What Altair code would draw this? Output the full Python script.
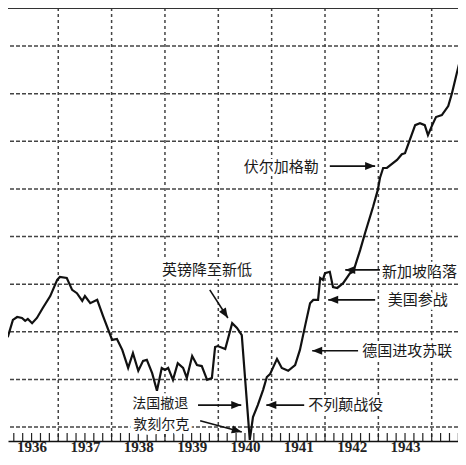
import altair as alt
import pandas as pd

# ---- main index line (decimal year, index level) ----
years = [1935.91, 1936.00, 1936.06, 1936.15, 1936.23, 1936.32, 1936.38, 1936.43, 1936.51, 1936.60,
         1936.71, 1936.85, 1936.98, 1937.03, 1937.16, 1937.26, 1937.35, 1937.45, 1937.50, 1937.60,
         1937.73, 1937.84, 1938.01, 1938.10, 1938.20, 1938.31, 1938.40, 1938.50, 1938.59, 1938.66,
         1938.76, 1938.85, 1938.94, 1939.00, 1939.06, 1939.15, 1939.24, 1939.34, 1939.41, 1939.51,
         1939.60, 1939.69, 1939.79, 1939.88, 1939.94, 1939.99, 1940.13, 1940.26, 1940.35, 1940.44,
         1940.59, 1940.65, 1940.74, 1940.84, 1940.91, 1940.97, 1941.10, 1941.19, 1941.31, 1941.44,
         1941.53, 1941.63, 1941.72, 1941.78, 1941.87, 1941.91, 1941.96, 1942.00, 1942.09, 1942.15,
         1942.23, 1942.34, 1942.47, 1942.53, 1942.60, 1942.66, 1942.75, 1942.90, 1942.99, 1943.03,
         1943.09, 1943.16, 1943.35, 1943.44, 1943.50, 1943.59, 1943.69, 1943.78, 1943.87, 1943.93,
         1944.01, 1944.08, 1944.19, 1944.31, 1944.38, 1944.47, 1944.57, 1944.59, 1944.66]
values = [56.0, 58.3, 59.1, 62.5, 63.1, 62.9, 62.3, 62.7, 61.8, 62.9,
          65.0, 67.5, 70.9, 71.5, 71.3, 68.8, 68.1, 66.5, 67.5, 66.0,
          66.7, 63.3, 58.3, 58.5, 56.2, 52.4, 55.5, 51.8, 53.9, 54.1,
          51.3, 47.6, 52.4, 52.0, 52.4, 49.9, 53.4, 52.4, 50.3, 54.9,
          53.0, 52.8, 49.9, 50.3, 56.8, 57.0, 56.4, 61.8, 60.8, 59.3,
          37.3, 42.1, 44.6, 47.8, 50.5, 51.1, 54.3, 52.4, 51.8, 53.0,
          56.2, 61.4, 66.0, 66.7, 66.7, 71.3, 70.9, 72.3, 72.6, 69.4,
          69.2, 70.2, 72.3, 72.6, 75.1, 77.2, 80.7, 86.2, 89.8, 92.3,
          94.4, 94.4, 96.1, 97.3, 97.5, 100.3, 103.4, 103.8, 103.4, 101.3,
          103.4, 105.1, 105.5, 107.4, 110.1, 114.3, 118.8, 119.4, 118.5]

# ---- annotations ----
ann_text = ["伏尔加格勒", "英镑降至新低", "新加坡陷落", "美国参战",
            "德国进攻苏联", "不列颠战役", "法国撤退", "敦刻尔克"]
ann_x = [1941.18, 1939.79, 1943.77, 1943.74, 1943.54, 1942.39, 1938.91, 1938.93]
ann_y = [94.6, 73.0, 72.6, 66.7, 56.0, 44.6, 44.9, 40.5]
ann_size = [15, 15, 15, 15, 15, 15, 14, 14]

arr_x0 = [1942.09, 1939.84, 1943.03, 1942.94, 1942.62, 1941.61, 1939.62, 1939.66]
arr_y0 = [94.8, 68.8, 73.0, 66.7, 56.0, 44.6, 44.6, 41.3]
arr_x1 = [1942.94, 1940.18, 1942.38, 1942.06, 1941.76, 1940.90, 1940.43, 1940.44]
arr_y1 = [94.8, 62.9, 73.0, 66.7, 56.0, 44.6, 44.6, 38.95]
arr_angle = [0, 57, 180, 180, 180, 180, 0, 15]

# ---- axis / grid ----
grid_years = [1936, 1937, 1938, 1939, 1940, 1941, 1942, 1943, 1944]
grid_levels = [40, 50, 60, 70, 80, 90, 100, 110, 120]
label_pos = [1936.5, 1937.5, 1938.5, 1939.5, 1940.5, 1941.5, 1942.5, 1943.5, 1944.5]
tick_months = [0, 2, 4, 6, 8, 10]

W, H = 450, 433
xscale = alt.Scale(domain=[1936.058, 1944.493], nice=False, zero=False)
yscale = alt.Scale(domain=[37.06, 128.0], nice=False, zero=False)
xaxis = alt.Axis(values=label_pos, labelExpr="'' + floor(datum.value)", grid=False,
                 ticks=False, tickSize=0, domain=True, domainColor="#111", domainWidth=1.6,
                 labelFont="Liberation Serif", labelFontSize=15, labelFontWeight="bold",
                 labelColor="#222", labelPadding=5.5, labelBaseline="middle",
                 labelFlush=False, labelOverlap=False, title=None)
X = alt.X("x:Q", scale=xscale, axis=xaxis)
Y = alt.Y("y:Q", scale=yscale, axis=None)

line_df = pd.DataFrame({"x": years, "y": values})
ann_df = pd.DataFrame({"x": ann_x, "y": ann_y, "t": ann_text, "fs": ann_size})
arr_df = pd.DataFrame({"x": arr_x0, "y": arr_y0, "x2": arr_x1, "y2": arr_y1})
head_df = pd.DataFrame({"x": arr_x1, "y": arr_y1, "angle": arr_angle})
vgrid_df = pd.DataFrame({"x": grid_years})
hgrid_df = pd.DataFrame({"y": grid_levels})
tick_df = pd.DataFrame({"x": [y + m / 12 for y in grid_years for m in tick_months]})

vgrid = alt.Chart(vgrid_df).mark_rule(color="#444", strokeWidth=1.5, strokeDash=[3, 3]).encode(x=X)
hgrid = alt.Chart(hgrid_df).mark_rule(color="#444", strokeWidth=1.5, strokeDash=[4, 2]).encode(y=Y)
ticks = alt.Chart(tick_df).mark_rule(color="#222", strokeWidth=1.2, clip=True).encode(
    x=X, y=alt.value(H - 8), y2=alt.value(H))
top = alt.Chart(vgrid_df).mark_rule(color="#333", strokeWidth=2).encode(
    x=alt.value(0), x2=alt.value(W), y=alt.value(0))
line = alt.Chart(line_df).mark_line(color="#111", strokeWidth=2.2, clip=True).encode(x=X, y=Y)
FS = alt.Size("fs:Q", scale=None, legend=None)
halo = alt.Chart(ann_df).mark_text(font="Noto Sans CJK SC", color="white",
                                   stroke="white", strokeWidth=6).encode(
    x=X, y=Y, text="t:N", size=FS)
label = alt.Chart(ann_df).mark_text(font="Noto Sans CJK SC", color="#1a1a1a").encode(
    x=X, y=Y, text="t:N", size=FS)
shafts = alt.Chart(arr_df).mark_rule(color="#111", strokeWidth=1.6).encode(
    x=X, y=Y, x2=alt.X2("x2"), y2=alt.Y2("y2"))
heads = alt.Chart(head_df).mark_point(shape="M0,0L-1,-0.4L-1,0.4Z", size=400, filled=True,
                                      color="#111", opacity=1, strokeWidth=0).encode(
    x=X, y=Y, angle=alt.Angle("angle:Q", scale=None))

chart = alt.layer(vgrid, hgrid, ticks, top, halo, line, shafts, heads, label).properties(
    width=W, height=H,
    padding={"left": 0, "top": 0, "right": 0, "bottom": 14},
    autosize=alt.AutoSizeParams(type="none"),
    background="white"
).configure_view(stroke=None)

chart.save("out.html", embed_options={"renderer": "svg", "actions": False})
